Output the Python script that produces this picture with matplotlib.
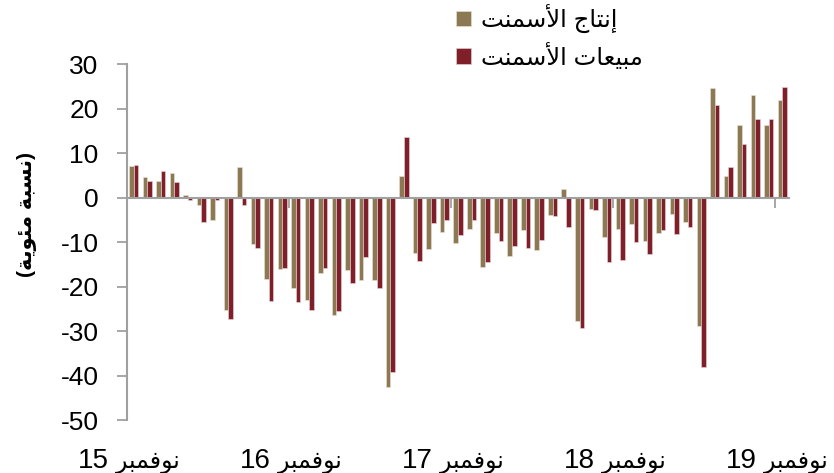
import re
import numpy as np
import pandas as pd
import matplotlib
matplotlib.use("Agg")
import matplotlib.pyplot as plt

plt.rcParams["font.family"] = ["Liberation Sans", "DejaVu Sans"]
plt.rcParams["axes.unicode_minus"] = False

# monthly, Nov 2015 .. Nov 2019 (% change)
months = pd.date_range("2015-11-01", "2019-11-01", freq="MS")
production = [7.1, 4.7, 3.6, 5.4, 0.45, -1.7, -5.0, -25.2, 6.8, -10.5, -18.3, -16.1, -20.4,
              -23.0, -17.0, -26.3, -16.3, -18.5, -18.5, -42.5, 4.9, -12.5, -11.5, -7.7, -10.2,
              -7.1, -15.7, -8.0, -13.1, -7.4, -11.8, -3.9, 2.0, -27.8, -2.6, -8.8, -7.0,
              -5.9, -9.7, -8.0, -3.8, -5.4, -28.9, 24.5, 4.9, 16.3, 23.1, 16.3, 22.0]
sales = [7.3, 3.7, 5.9, 3.5, -0.45, -5.4, -0.6, -27.3, -1.7, -11.4, -23.2, -15.9, -23.4,
         -25.2, -15.9, -25.4, -19.2, -13.4, -20.3, -39.2, 13.7, -14.3, -5.7, -5.0, -8.4,
         -5.0, -14.6, -9.8, -11.0, -11.4, -9.6, -4.2, -6.6, -29.3, -2.9, -14.4, -14.0,
         -9.9, -12.8, -7.2, -8.1, -6.7, -38.1, 20.7, 6.8, 12.1, 17.7, 17.6, 24.8]
tick_idx = [0, 12, 24, 36, 48]
tick_names = ["نوفمبر 15", "نوفمبر 16", "نوفمبر 17", "نوفمبر 18", "نوفمبر 19"]
series_names = ["إنتاج الأسمنت", "مبيعات الأسمنت"]
ylabel = "(نسبة مئوية)"

# --- minimal arabic shaping (matplotlib has no bidi / shaping)
FORMS = {
    "\u0627": ("\uFE8D", "\uFE8E", None, None),
    "\u0623": ("\uFE83", "\uFE84", None, None),
    "\u0625": ("\uFE87", "\uFE88", None, None),
    "\u0628": ("\uFE8F", "\uFE90", "\uFE91", "\uFE92"),
    "\u0629": ("\uFE93", "\uFE94", None, None),
    "\u062A": ("\uFE95", "\uFE96", "\uFE97", "\uFE98"),
    "\u062C": ("\uFE9D", "\uFE9E", "\uFE9F", "\uFEA0"),
    "\u0631": ("\uFEAD", "\uFEAE", None, None),
    "\u0633": ("\uFEB1", "\uFEB2", "\uFEB3", "\uFEB4"),
    "\u0639": ("\uFEC9", "\uFECA", "\uFECB", "\uFECC"),
    "\u0641": ("\uFED1", "\uFED2", "\uFED3", "\uFED4"),
    "\u0644": ("\uFEDD", "\uFEDE", "\uFEDF", "\uFEE0"),
    "\u0645": ("\uFEE1", "\uFEE2", "\uFEE3", "\uFEE4"),
    "\u0646": ("\uFEE5", "\uFEE6", "\uFEE7", "\uFEE8"),
    "\u0648": ("\uFEED", "\uFEEE", None, None),
    "\u064A": ("\uFEF1", "\uFEF2", "\uFEF3", "\uFEF4"),
    "\u0626": ("\uFE89", "\uFE8A", "\uFE8B", "\uFE8C"),
}
LAM_ALEF = {"\u0627": ("\uFEFB", "\uFEFC"), "\u0623": ("\uFEF7", "\uFEF8"),
            "\u0625": ("\uFEF9", "\uFEFA")}


def dual(c):
    return c in FORMS and FORMS[c][2] is not None


def shape(text):
    out, i, n = [], 0, len(text)
    while i < n:
        c = text[i]
        if c not in FORMS:
            out.append(c)
            i += 1
            continue
        join_prev = i > 0 and dual(text[i - 1])
        if c == "\u0644" and i + 1 < n and text[i + 1] in LAM_ALEF:
            iso, fin = LAM_ALEF[text[i + 1]]
            out.append(fin if join_prev else iso)
            i += 2
            continue
        join_next = dual(c) and i + 1 < n and text[i + 1] in FORMS
        iso, fin, ini, med = FORMS[c]
        if join_prev and join_next:
            out.append(med)
        elif join_prev:
            out.append(fin)
        elif join_next:
            out.append(ini)
        else:
            out.append(iso)
        i += 1
    return "".join(out)


def ar(text):
    s = shape(text)[::-1]
    s = re.sub(r"\d+", lambda m: m.group(0)[::-1], s)
    return s.translate(str.maketrans("()", ")("))


prod_col = "#8C7853"
sales_col = "#7E1F2A"
grey = "#a0a0a0"

fig = plt.figure(figsize=(8.34, 4.73), dpi=100)
ax = fig.add_axes([127 / 834, 1 - 420 / 473, 662 / 834, 356 / 473])

x = np.arange(len(months))
w = 0.34
ax.bar(x - w / 2, production, w, color=prod_col, edgecolor="#e9e3d6", linewidth=0.4,
       label=ar(series_names[0]))
ax.bar(x + w / 2, sales, w, color=sales_col, edgecolor="#ead8d8", linewidth=0.4,
       label=ar(series_names[1]))

ax.set_xlim(-0.5, len(months) - 0.5)
ax.set_ylim(-50, 30)
ax.set_yticks(np.arange(-50, 31, 10))
ax.tick_params(axis="y", direction="out", length=7, width=1.3, color=grey,
               labelsize=19, pad=13.5)

ax.spines["top"].set_visible(False)
ax.spines["right"].set_visible(False)
ax.spines["left"].set_color(grey)
ax.spines["left"].set_linewidth(1.5)
ax.spines["bottom"].set_position(("data", 0))
ax.spines["bottom"].set_color(grey)
ax.spines["bottom"].set_linewidth(1.5)

# ticks between the years on the zero line, labels at the bottom
ax.set_xticks([i - 0.5 for i in tick_idx[1:]])
ax.set_xticklabels([])
ax.tick_params(axis="x", direction="out", length=7, width=1.3, color=grey)
base_y = -(468 - 420) / 356
for i, name in zip(tick_idx, tick_names):
    word, num = name.split(" ")
    ax.annotate(num, xy=(i, base_y), xycoords=ax.get_xaxis_transform(),
                xytext=(-18, 0), textcoords="offset points",
                ha="right", va="baseline", fontsize=20, annotation_clip=False)
    ax.annotate(ar(word), xy=(i, base_y), xycoords=ax.get_xaxis_transform(),
                xytext=(-13, 0), textcoords="offset points",
                ha="left", va="baseline", fontsize=17, annotation_clip=False)

fig.text(27 / 834, 1 - 214 / 473, ar(ylabel), rotation=90, ha="center", va="center",
         fontsize=15, fontweight="bold")

ax.legend(loc="upper left", bbox_to_anchor=(456 / 834, 1 - 4 / 473),
          bbox_transform=fig.transFigure, frameon=False, fontsize=17.5,
          handlelength=0.62, handleheight=0.62, handletextpad=0.4,
          labelspacing=0.4, borderpad=0, borderaxespad=0)

fig.savefig("out.png", dpi=100)
